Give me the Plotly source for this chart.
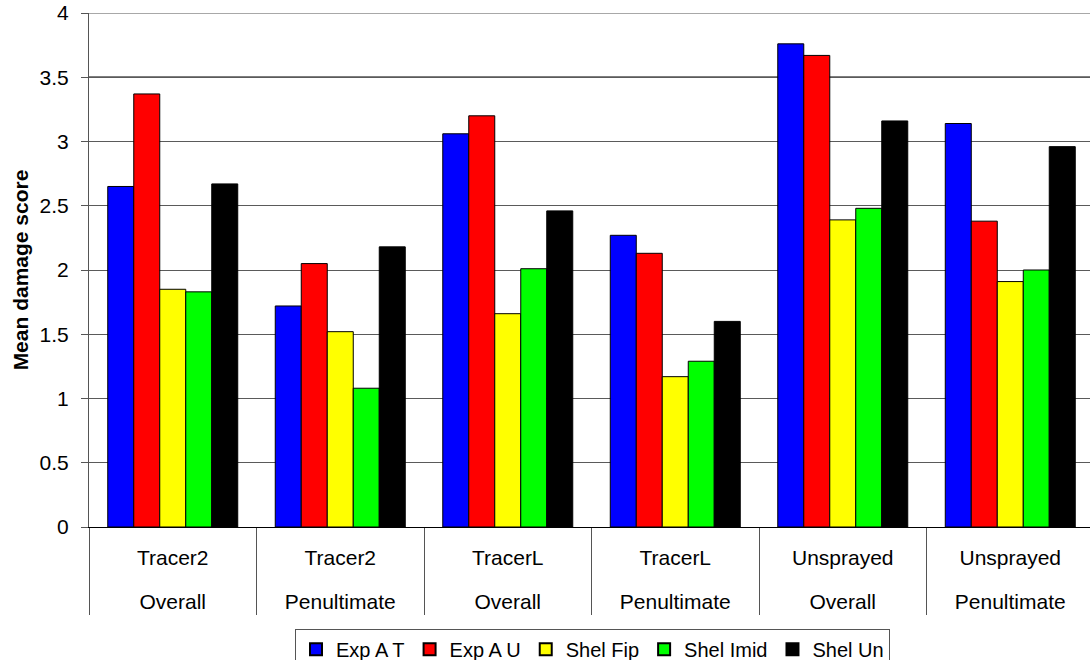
import plotly.graph_objects as go

treatments = ["Tracer2", "Tracer2", "TracerL", "TracerL", "Unsprayed", "Unsprayed"]
measures = ["Overall", "Penultimate", "Overall", "Penultimate", "Overall", "Penultimate"]

series_names = ["Exp A T", "Exp A U", "Shel Fip", "Shel Imid", "Shel Un"]
exp_a_t = [2.65, 1.72, 3.06, 2.27, 3.76, 3.14]
exp_a_u = [3.37, 2.05, 3.20, 2.13, 3.67, 2.38]
shel_fip = [1.85, 1.52, 1.66, 1.17, 2.39, 1.91]
shel_imid = [1.83, 1.08, 2.01, 1.29, 2.48, 2.00]
shel_un = [2.67, 2.18, 2.46, 1.60, 3.16, 2.96]
series_values = [exp_a_t, exp_a_u, shel_fip, shel_imid, shel_un]
colors = ["#0000FF", "#FF0000", "#FFFF00", "#00FF00", "#000000"]

y_ticks = [0, 0.5, 1, 1.5, 2, 2.5, 3, 3.5, 4]
y_tick_labels = ["0", "0.5", "1", "1.5", "2", "2.5", "3", "3.5", "4"]

FONT = "Liberation Sans, Arial, sans-serif"
FS = 21
n = len(treatments)
centers = list(range(n))
bounds = [i - 0.5 for i in range(n + 1)]
x_range = [-0.5, 5.476]

fig = go.Figure()
for name, vals, col in zip(series_names, series_values, colors):
    fig.add_trace(go.Bar(x=centers, y=vals, name=name,
                         marker=dict(color=col, line=dict(color="#000000", width=1))))

# helper traces for the extra axes (separators and second label line)
fig.add_trace(go.Scatter(x=[None], y=[None], xaxis="x2", showlegend=False, hoverinfo="skip"))
fig.add_trace(go.Scatter(x=[None], y=[None], xaxis="x3", showlegend=False, hoverinfo="skip"))

fig.update_layout(
    width=1090, height=660,
    margin=dict(l=89, r=0, t=13, b=133, autoexpand=False),
    paper_bgcolor="white", plot_bgcolor="white",
    font=dict(family=FONT, size=FS, color="#000000"),
    barmode="group", bargap=0.224, bargroupgap=0,
    showlegend=True,
    legend=dict(orientation="h", x=0.503, xanchor="center", y=-0.198, yanchor="top",
                bordercolor="#555555", borderwidth=1, font=dict(size=FS - 1),
                itemsizing="constant", tracegroupgap=0, itemwidth=30),
    xaxis=dict(range=x_range, tickmode="array", tickvals=centers, ticktext=treatments,
               ticks="", showgrid=False, zeroline=False, showline=True, automargin=False,
               linecolor="#000000", linewidth=1, ticklabelstandoff=12,
               tickfont=dict(size=FS)),
    xaxis2=dict(range=x_range, overlaying="x", anchor="y", side="bottom", automargin=False,
                tickmode="array", tickvals=bounds, ticks="outside", ticklen=87,
                tickcolor="#555555", tickwidth=1, showticklabels=False,
                showgrid=False, zeroline=False, showline=False),
    xaxis3=dict(range=x_range, overlaying="x", anchor="y", side="bottom", automargin=False,
                tickmode="array", tickvals=centers, ticktext=measures,
                ticks="", showgrid=False, zeroline=False, showline=False,
                ticklabelstandoff=60, tickfont=dict(size=FS)),
    yaxis=dict(range=[0, 4], tickmode="array", tickvals=y_ticks, ticktext=y_tick_labels,
               ticks="outside", ticklen=7, tickcolor="#555555", automargin=False,
               showgrid=True, gridcolor="#5a5a5a", gridwidth=1,
               zeroline=False, showline=True, linecolor="#555555", linewidth=1,
               ticklabelstandoff=8, tickfont=dict(size=FS),
               title=dict(text="<b>Mean damage score</b>", font=dict(size=FS), standoff=5)),
)

# darker gridline at 3.5 and light plot-area border at 4
fig.add_shape(type="line", xref="paper", yref="y", x0=0, x1=1, y0=3.5, y1=3.5,
              line=dict(color="#000000", width=1.5), layer="below")
fig.add_shape(type="line", xref="paper", yref="y", x0=0, x1=1, y0=4, y1=4,
              line=dict(color="#a8a8a8", width=2), layer="below")

fig.write_html("out.html", config={"displayModeBar": False},
               post_script="document.body.style.margin='0';")
